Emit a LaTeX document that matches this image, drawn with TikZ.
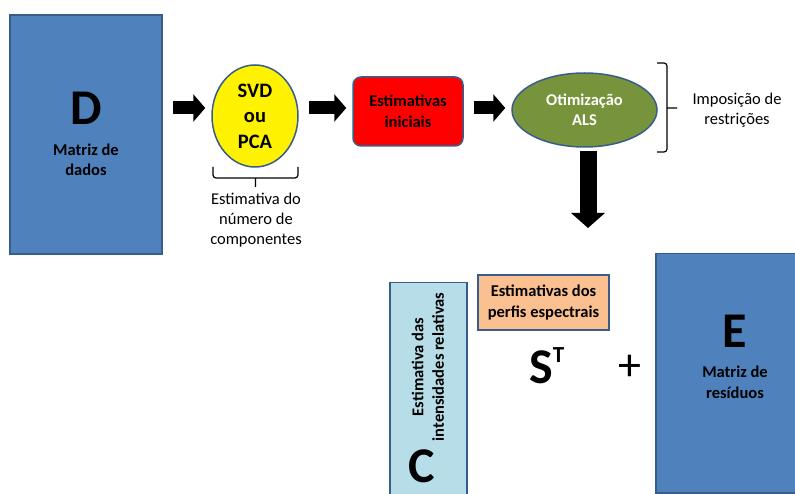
\documentclass[tikz,border=0pt]{standalone}
\usepackage{fontspec}
\setmainfont{Carlito}
\usetikzlibrary{shapes.geometric,arrows.meta}

\definecolor{matblue}{HTML}{4F81BD}
\definecolor{edgeblue}{HTML}{385D8A}
\definecolor{alsgreen}{HTML}{77933C}
\definecolor{cblue}{HTML}{B7DEE8}
\definecolor{peach}{HTML}{FAC090}

\tikzset{
 box/.style={draw=edgeblue, line width=1.5pt, inner sep=0pt},
 boldtxt/.style={font=\fontsize{16.5}{20.5}\selectfont\bfseries, align=center},
 plaintxt/.style={font=\fontsize{16.5}{20}\selectfont, align=center},
 bigletter/.style={font=\fontsize{50}{50}\selectfont\bfseries, inner sep=0pt},
 bigarrow/.style={line width=13pt, -{Triangle[length=12pt,width=27pt]}, shorten <=10pt, shorten >=6pt},
 bracket/.style={line width=1.2pt, rounded corners=3pt}
}

\begin{document}
\begin{tikzpicture}[x=1pt,y=-1pt]
 \path[use as bounding box, clip] (0,0) rectangle (795,494);

 \node[box, fill=matblue, minimum width=152pt, minimum height=239pt] (D) at (86,134.5) {};
 \node[boldtxt] (Dtxt) at (86,134) {{\fontsize{50}{50}\selectfont D}\\[10pt]Matriz de\\dados};

 \node[box, ellipse, fill=yellow, minimum width=86pt, minimum height=102pt, font=\fontsize{20.5}{25.5}\selectfont\bfseries, align=center] (svd) at (255,116) {SVD\\ou\\PCA};
 \node[box, boldtxt, fill=red, rounded corners=8pt, minimum width=110pt, minimum height=69pt] (est) at (408,111.5) {Estimativas\\iniciais};
 \node[box, boldtxt, ellipse, fill=alsgreen, text=white, minimum width=145pt, minimum height=74pt] (als) at (584.5,110) {Otimização\\ALS};

 \coordinate (row) at (0,108);
 \draw[bigarrow] (D.east |- row) -- (svd.west |- row);
 \draw[bigarrow] (svd.east |- row) -- (est.west |- row);
 \draw[bigarrow] (est.east |- row) -- (als.west |- row);

 \coordinate (down) at (588,228);
 \draw[line width=17pt, -{Triangle[length=15pt,width=33pt]}, shorten <=3pt] (down |- als.south) -- (down);

 \draw[bracket] (213,167) -- (213,178) -- (298,178) -- (298,167) (255.5,178) -- (255.5,187);
 \node[plaintxt] (ncomp) at (256,220) {Estimativa do\\número de\\componentes};

 \draw[bracket] (657,63) -- (667,63) -- (667,152) -- (657,152) (667,108) -- (677,108);
 \node[plaintxt] (restr) at (737,110) {Imposição de\\restrições};

 \node[box, fill=cblue, minimum width=77pt, minimum height=240pt, anchor=north] (C) at (428.5,282) {};
 \node[boldtxt, rotate=90] (Ctxt) at (428,367) {Estimativa das\\intensidades relativas};
 \node[bigletter] (Cl) at (422,466) {C};

 \node[box, boldtxt, fill=peach, minimum width=131pt, minimum height=55pt] (perf) at (543.5,302.5) {Estimativas dos\\perfis espectrais};
 \node[bigletter, anchor=base west] (S) at (529,383) {S\raisebox{21pt}{\fontsize{23}{23}\selectfont T}};
 \node[font=\fontsize{46}{46}\selectfont, inner sep=0pt] (plus) at (630,368) {+};

 \node[box, fill=matblue, minimum width=160pt, minimum height=239pt, anchor=north west] (E) at (655,253) {};
 \node[boldtxt] (Etxt) at (735,356.5) {{\fontsize{50}{50}\selectfont E}\\[10pt]Matriz de\\resíduos};
\end{tikzpicture}
\end{document}
